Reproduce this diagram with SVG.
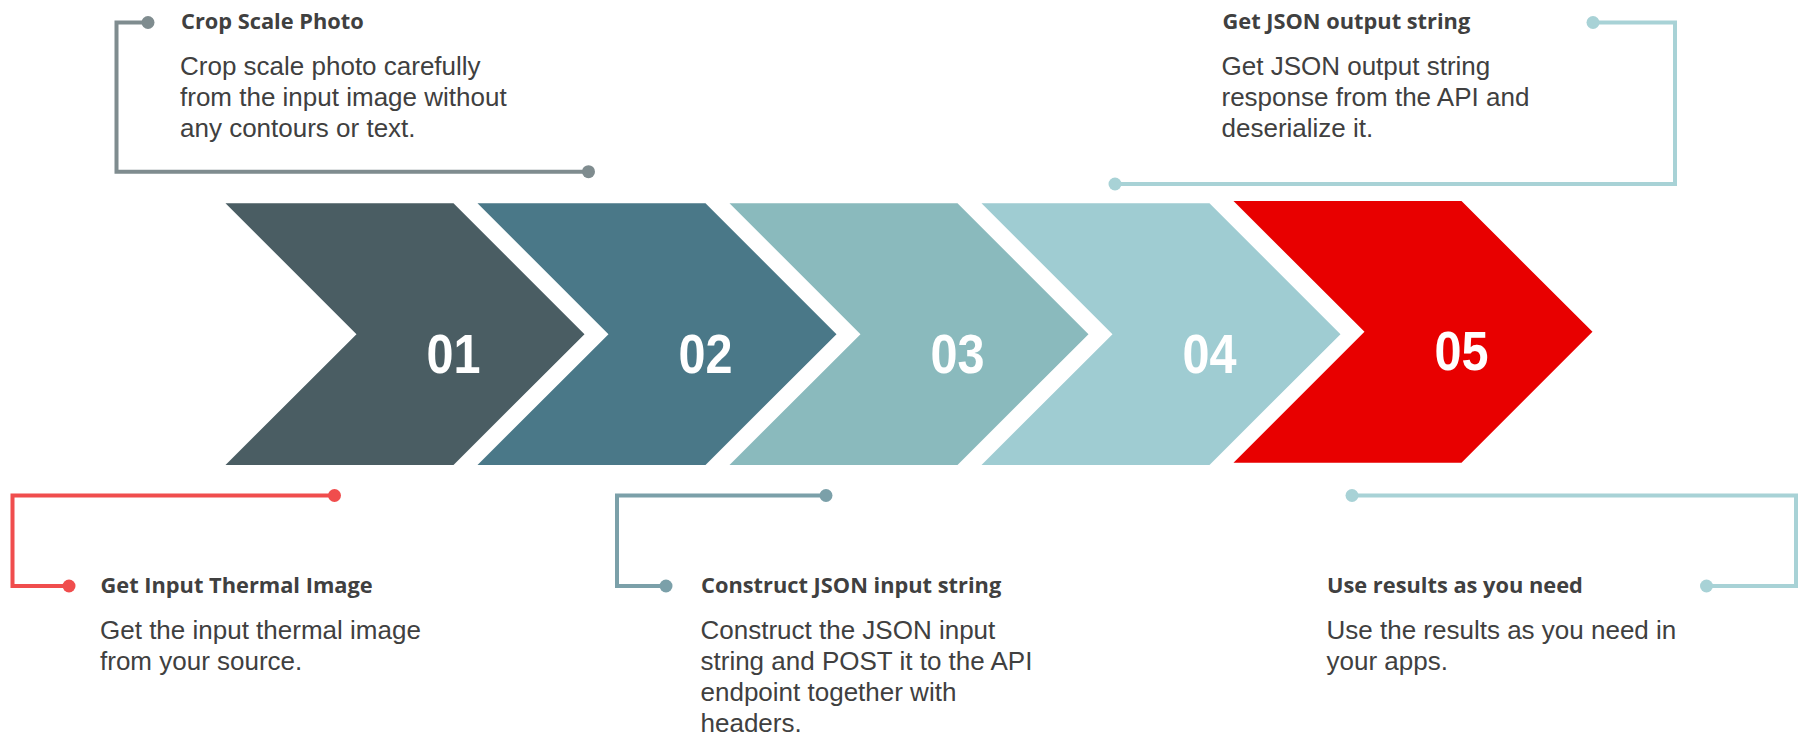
<svg xmlns="http://www.w3.org/2000/svg" width="1799" height="736" viewBox="0 0 1799 736">
<defs>
<style>
.title{font-family:"Open Sans","Liberation Sans",sans-serif;font-weight:700;font-size:21.8px;fill:#404040}
.body{font-family:"Liberation Sans",Arial,sans-serif;font-size:26px;fill:#404040}
.num{font-family:"Liberation Sans",Arial,sans-serif;font-weight:700;font-size:56px;fill:#ffffff;text-anchor:middle}
.conn{fill:none;stroke-width:4}
</style>
<polygon id="chev" points="0,0 228,0 359,130.85 228,261.7 0,261.7 131,130.85"/>
</defs>
<rect width="1799" height="736" fill="#ffffff"/>
<g id="connectors">
<path class="conn" stroke="#7F8C8F" d="M148,22.5 H116.5 V171.7 H588.5"/>
<circle cx="148" cy="22.5" r="6.5" fill="#7F8C8F"/>
<circle cx="588.5" cy="171.7" r="6.5" fill="#7F8C8F"/>
<path class="conn" stroke="#A8D2D6" d="M1593,22.5 H1675 V184 H1115"/>
<circle cx="1593" cy="22.5" r="6.5" fill="#A8D2D6"/>
<circle cx="1115" cy="184" r="6.5" fill="#A8D2D6"/>
<path class="conn" stroke="#F04D4D" d="M334.5,495.5 H12.5 V586 H69"/>
<circle cx="334.5" cy="495.5" r="6.5" fill="#F04D4D"/>
<circle cx="69" cy="586" r="6.5" fill="#F04D4D"/>
<path class="conn" stroke="#7BA0A9" d="M826,495.5 H617 V586 H666"/>
<circle cx="826" cy="495.5" r="6.5" fill="#7BA0A9"/>
<circle cx="666" cy="586" r="6.5" fill="#7BA0A9"/>
<path class="conn" stroke="#A8D2D6" d="M1352,495.5 H1796 V586 H1706.5"/>
<circle cx="1352" cy="495.5" r="6.5" fill="#A8D2D6"/>
<circle cx="1706.5" cy="586" r="6.5" fill="#A8D2D6"/>
</g>
<g id="step1">
<use href="#chev" x="225.5" y="203.3" fill="#4A5D63"/>
<text class="num" x="453.5" y="372.5" textLength="54" lengthAdjust="spacingAndGlyphs">01</text>
</g>
<g id="step2">
<use href="#chev" x="477.5" y="203.3" fill="#4A7888"/>
<text class="num" x="705.5" y="372.5" textLength="54" lengthAdjust="spacingAndGlyphs">02</text>
</g>
<g id="step3">
<use href="#chev" x="729.5" y="203.3" fill="#8ABABD"/>
<text class="num" x="957.5" y="372.5" textLength="54" lengthAdjust="spacingAndGlyphs">03</text>
</g>
<g id="step4">
<use href="#chev" x="981.5" y="203.3" fill="#9FCCD2"/>
<text class="num" x="1209.5" y="372.5" textLength="54" lengthAdjust="spacingAndGlyphs">04</text>
</g>
<g id="step5">
<use href="#chev" x="1233.5" y="201" fill="#E80000"/>
<text class="num" x="1461.5" y="369.5" textLength="54" lengthAdjust="spacingAndGlyphs">05</text>
</g>
<g id="callout-crop">
<text class="title" x="181" y="28.5">Crop Scale Photo</text>
<text class="body" x="180" y="75">Crop scale photo carefully</text>
<text class="body" x="180" y="106">from the input image without</text>
<text class="body" x="180" y="137">any contours or text.</text>
</g>
<g id="callout-output">
<text class="title" x="1222.5" y="28.5">Get JSON output string</text>
<text class="body" x="1221.5" y="75">Get JSON output string</text>
<text class="body" x="1221.5" y="106">response from the API and</text>
<text class="body" x="1221.5" y="137">deserialize it.</text>
</g>
<g id="callout-input">
<text class="title" x="100.5" y="592.5">Get Input Thermal Image</text>
<text class="body" x="100" y="639">Get the input thermal image</text>
<text class="body" x="100" y="670">from your source.</text>
</g>
<g id="callout-construct">
<text class="title" x="701" y="592.5">Construct JSON input string</text>
<text class="body" x="700.5" y="639">Construct the JSON input</text>
<text class="body" x="700.5" y="670">string and POST it to the API</text>
<text class="body" x="700.5" y="701">endpoint together with</text>
<text class="body" x="700.5" y="732">headers.</text>
</g>
<g id="callout-results">
<text class="title" x="1327" y="592.5">Use results as you need</text>
<text class="body" x="1326.5" y="639">Use the results as you need in</text>
<text class="body" x="1326.5" y="670">your apps.</text>
</g>
</svg>
